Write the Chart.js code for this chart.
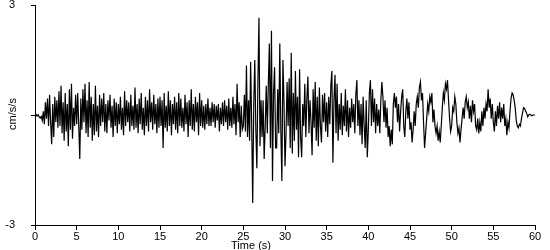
<!DOCTYPE html>
<html>
<head>
<meta charset="utf-8">
<script src="https://cdn.jsdelivr.net/npm/chart.js@4.4.1/dist/chart.umd.min.js"></script>
<style>
  html, body { margin: 0; padding: 0; background: #fff; }
  #box { width: 550px; height: 250px; }
</style>
</head>
<body>
<div id="box"><canvas id="trace"></canvas></div>
<script>
// サンプル間隔 (s)
const sampleStep = 0.125;

// 軸の目盛
const xTicks = [0, 5, 10, 15, 20, 25, 30, 35, 40, 45, 50, 55, 60];
const yTicks = [-3, 0, 3];
const yLabels = ['-3', '', '3'];
const xTitle = 'Time (s)';
const yTitle = 'cm/s/s';

// 加速度 (cm/s/s) 1行 = 1秒
const accel = [
    0, 0.02, -0.03, 0.01, -0.05, -0.08, -0.04, -0.15,
    0.1, -0.25, 0.35, -0.1, 0.45, -0.3, 0.55, -0.2,
    -0.8, 0.3, -0.6, 0.5, -0.2, 0.4, -0.35, 0.65,
    -0.3, 0.8, -0.5, 0.35, -0.7, 0.6, -0.45, 0.3,
    -0.85, 0.7, -0.4, 0.85, -0.65, 0.2, -0.3, 0.55,
    -0.25, 0.6, -0.3, -1.2, 0.45, -0.4, 0.7, -0.2,
    0.85, -0.5, 0.4, -0.6, 0.9, -0.35, 0.5, -0.7,
    0.3, -0.55, 0.8, -0.45, 0.25, -0.6, 0.55, -0.3,
    0.45, -0.2, 0.6, -0.45, 0.3, -0.5, 0.4, -0.15,
    0.55, -0.35, 0.25, -0.6, 0.45, -0.3, 0.35, -0.5,
    0.3, -0.25, 0.5, -0.4, 0.2, -0.55, 0.65, -0.3,
    0.4, -0.2, 0.35, -0.45, 0.55, -0.3, 0.25, -0.4,
    0.75, -0.35, 0.3, -0.5, 0.45, -0.25, 0.6, -0.4,
    0.2, -0.55, 0.5, -0.3, 0.4, -0.45, 0.7, -0.2,
    0.35, -0.4, 0.55, -0.25, 0.3, -0.5, 0.45, -0.35,
    0.5, -0.3, 0.4, -0.9, 0.6, -0.35, 0.25, -0.45,
    0.65, -0.3, 0.4, -0.55, 0.3, -0.25, 0.5, -0.4,
    0.35, -0.5, 0.6, -0.3, 0.45, -0.35, 0.2, -0.45,
    0.55, -0.25, 0.35, -0.6, 0.4, -0.3, 0.7, -0.4,
    0.3, -0.45, 0.5, -0.2, 0.35, -0.55, 0.6, -0.3,
    0.4, -0.35, 0.25, -0.4, 0.3, -0.25, 0.45, -0.3,
    0.2, -0.3, 0.35, -0.2, 0.3, -0.35, 0.25, -0.15,
    0.3, -0.45, 0.2, -0.25, 0.35, -0.3, 0.4, -0.2,
    0.25, -0.4, 0.45, -0.3, 0.2, -0.35, 0.5, -0.25,
    0.3, -0.55, 0.85, -0.2, 0.35, -0.6, 0.25, -0.4,
    -0.3, 0.55, -0.45, 1.35, -0.6, 0.4, -0.7, 1.45,
    -0.2, -2.4, 0.3, 1.5, -0.4, -1.45, 0.9, 2.65,
    -0.85, 0.4, -0.6, 0.4, -1.2, -0.3, 0.8, -0.5,
    0.85, 1.95, -0.9, 2.3, -1.8, 0.6, 1.3, -0.9,
    -0.9, 0.7, -0.5, 1.95, -0.4, -1.8, 1.5, 0.4,
    -1.4, -0.5, 0.9, -0.3, 1.0, -0.9, 1.7, -1.05,
    0.6, -0.7, 1.2, -0.4, 0.5, -1.15, 1.25, -0.6,
    -1.15, 0.3, -0.3, 0.85, -0.6, 0.45, 1.05, -0.5,
    0.4, -0.2, -1.1, 0.7, -0.35, 0.9, -0.7, 0.5,
    -0.85, 0.75, -0.3, -0.75, 0.55, -0.2, 0.6, -0.45,
    0.35, -0.6, 0.5, -0.25, 0.8, 1.2, -1.3, 0.4,
    1.1, -0.5, 0.85, -0.7, 0.3, -0.4, 0.6, -0.55,
    0.25, -0.3, 0.7, -0.45, 0.4, -0.6, 0.2, -0.35,
    0.45, -0.2, 0.3, -0.5, 0.55, 0.95, -0.3, 0.4,
    -0.55, 0.3, -0.8, 0.5, -0.3, -0.9, 0.4, -1.15,
    -0.4, 0.6, 0.95, -0.3, 0.7, -0.2, 0.45, -0.5,
    0.3, -0.3, 0.15, -0.5, 0.4, 0.9, 0.5, -0.2,
    0.4, -0.35, 0.2, -0.6, -0.3, -0.85, -0.4, -0.8,
    0.3, 0.6, 0.2, 0.5, -0.2, 0.3, -0.45, 0.1,
    0.5, 0.7, -0.3, -0.6, 0.1, 0.45, -0.1, 0.35,
    -0.4, -0.2, -0.75, -0.4, 0.1, -0.3, 0.3, 0.5,
    0.2, 0.75, 0.9, 0.4, 0.6, -0.2, -0.9, -0.5,
    -0.1, 0.3, 0.1, 0.5, 0.35, 0.6, -0.2, 0.15,
    -0.3, -0.5, -0.3, -0.7, -0.45, -0.75, -0.3, 0.2,
    0.6, 0.4, 0.85, 0.7, 0.95, 0.4, -0.1, -0.45,
    -0.3, 0.2, 0.1, 0.5, 0.3, -0.2, -0.5, -0.35,
    -0.75, -0.4, -0.1, 0.2, -0.1, 0.35, 0.5, 0.2,
    0.35, -0.1, 0.25, -0.2, 0.4, 0.1, 0.3, -0.3,
    -0.4, -0.1, -0.5, -0.2, -0.45, 0.1, -0.3, 0.2,
    -0.1, 0.3, 0.1, 0.7, 0.2, 0.45, -0.1, 0.3,
    -0.2, -0.45, 0.1, -0.3, 0.25, -0.1, 0.35, -0.2,
    0.2, -0.1, 0.3, -0.3, -0.1, -0.55, -0.2, -0.35,
    0.1, 0.45, 0.6, 0.55, 0.4, 0.2, -0.15, -0.3,
    -0.35, -0.25, -0.3, -0.1, 0.05, 0.2, 0.18, 0.1,
    0.05, -0.05, 0, 0.02, 0, -0.02, 0, 0,
    0
];

const font = { family: '"Liberation Sans", Arial, sans-serif', size: 11 };
const fontCss = '11px "Liberation Sans", Arial, sans-serif';

// Chart.js 用の点列
const points = accel.map((v, i) => ({ x: i * sampleStep, y: v }));

// 軸タイトルを参照図の位置に描く
const axisTitles = {
    id: 'axisTitles',
    afterDraw(chart) {
        const c = chart.ctx;
        const area = chart.chartArea;
        c.save();
        c.fillStyle = '#000';
        c.font = fontCss;
        c.textAlign = 'center';
        c.textBaseline = 'middle';
        c.fillText(xTitle, area.left + 216, 246);
        c.translate(12.5, chart.scales.y.getPixelForValue(0) - 1);
        c.rotate(-Math.PI / 2);
        c.fillText(yTitle, 0, 0);
        c.restore();
    }
};

const ctx = document.getElementById('trace').getContext('2d');
new Chart(ctx, {
    type: 'line',
    data: {
        datasets: [{
            data: points,
            borderColor: '#000',
            borderWidth: 1.2,
            pointRadius: 0,
            tension: 0,
            fill: false
        }]
    },
    options: {
        responsive: true,
        maintainAspectRatio: false,
        animation: false,
        layout: { padding: { top: 0, right: 15, left: 0, bottom: 0 } },
        plugins: { legend: { display: false }, tooltip: { enabled: false } },
        scales: {
            x: {
                type: 'linear',
                min: 0,
                max: 60,
                afterBuildTicks: axis => { axis.ticks = xTicks.map(v => ({ value: v })); },
                afterFit: axis => { axis.height = 25; },
                grid: { drawOnChartArea: false, drawTicks: true, tickLength: 5, color: '#000' },
                border: { display: true, color: '#000', width: 1 },
                ticks: { color: '#000', font: font, padding: 0, maxRotation: 0 }
            },
            y: {
                min: -3,
                max: 3,
                afterBuildTicks: axis => { axis.ticks = yTicks.map(v => ({ value: v })); },
                afterFit: axis => {
                    axis.width = 35;
                    axis.paddingTop = 5;
                    axis.paddingBottom = 0;
                },
                grid: { drawOnChartArea: false, drawTicks: true, tickLength: 4, color: '#000' },
                border: { display: true, color: '#000', width: 1 },
                ticks: {
                    color: '#000',
                    font: font,
                    padding: 16,
                    crossAlign: 'near',
                    callback: (v, i) => yLabels[i]
                }
            }
        }
    },
    plugins: [axisTitles]
});
</script>
</body>
</html>
